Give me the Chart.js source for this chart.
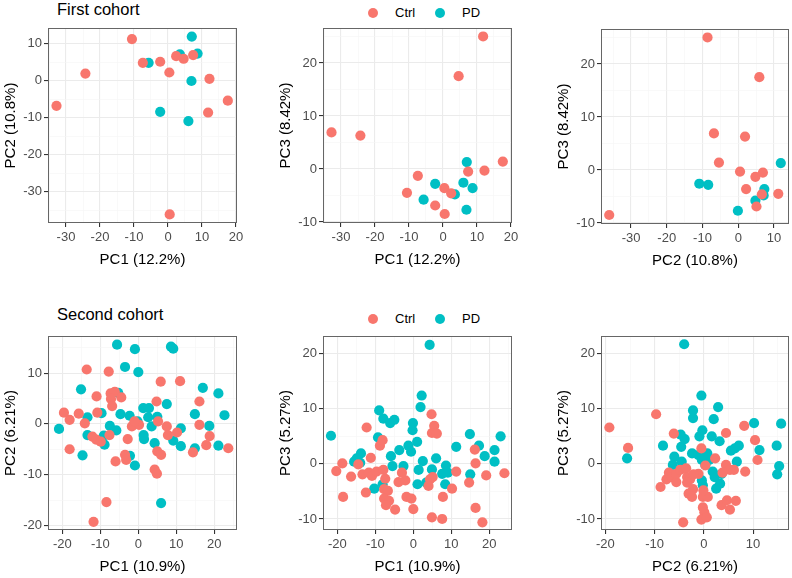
<!DOCTYPE html>
<html>
<head>
<meta charset="utf-8">
<script src="https://cdn.jsdelivr.net/npm/chart.js@4.4.0/dist/chart.umd.min.js"></script>
<style>
  body { margin: 0; width: 792px; height: 578px; background: #fff; overflow: hidden; position: relative;
         font-family: "Liberation Sans", Arial, sans-serif; }
  canvas { position: absolute; }
  .title { position: absolute; font-size: 16.5px; line-height: 20px; color: #000; white-space: nowrap; }
  .leg { position: absolute; font-size: 13px; line-height: 16px; color: #000; white-space: nowrap; }
  .dot { position: absolute; width: 10px; height: 10px; border-radius: 50%; }
</style>
</head>
<body>

<div class="title" style="left:57px; top:-1px;">First cohort</div>
<div class="title" style="left:57px; top:304px;">Second cohort</div>

<div class="dot" style="left:368px; top:8px; background:#F8766D;"></div>
<div class="leg" style="left:395px; top:5px;">Ctrl</div>
<div class="dot" style="left:435px; top:8px; background:#00BFC4;"></div>
<div class="leg" style="left:462px; top:5px;">PD</div>

<div class="dot" style="left:368px; top:314px; background:#F8766D;"></div>
<div class="leg" style="left:395px; top:311px;">Ctrl</div>
<div class="dot" style="left:435px; top:314px; background:#00BFC4;"></div>
<div class="leg" style="left:462px; top:311px;">PD</div>

<canvas id="p1"></canvas>
<canvas id="p2"></canvas>
<canvas id="p3"></canvas>
<canvas id="p4"></canvas>
<canvas id="p5"></canvas>
<canvas id="p6"></canvas>

<script>
// ---- First cohort: one score per sample, same samples in all three panels
const c1CtrlPC1 = [-32.8, -24.3, -10.6, -7.4, -2.3, 0.4, 0.5, 2.4, 4.6, 7.4, 11.8, 12.2, 17.6];
const c1CtrlPC2 = [-6.8, 1.9, 11.2, 4.8, 5.1, 2.2, -36.1, 6.6, 5.9, 6.9, -8.6, 0.5, -5.4];
const c1CtrlPC3 = [6.9, 6.3, -4.5, -1.3, -6.9, -3.6, -8.5, -4.6, 17.5, -0.5, 25.0, -0.3, 1.4];
const c1PdPC1 = [-5.7, -2.3, 3.5, 6.0, 6.9, 7.0, 8.7];
const c1PdPC2 = [4.8, -8.4, 7.1, -10.9, -0.1, 11.9, 7.3];
const c1PdPC3 = [-5.8, -2.8, -4.8, -2.6, -7.7, 1.3, -3.6];

// ---- Second cohort: points read per panel, [x, y]
const c2CtrlPC1PC2 = [[-13.6,10.7],[-7.8,10.3],[-11.0,5.4],[-7.3,6.0],[-6.2,6.3],[-4.5,5.2],[-7.2,4.9],[-6.9,3.5],
  [-19.6,2.2],[-18.1,0.8],[-15.7,2.0],[-14.1,0.1],[-10.8,2.2],[-12.1,-2.5],[-11.1,-3.1],[-9.9,-3.5],[-18.1,-5.0],
  [-7.6,-2.2],[-2.8,-3.0],[-1.7,-0.5],[0.2,-0.2],[-1.0,0.5],[-6.0,-7.4],[-3.5,-6.1],[-3.2,-7.1],[5.9,8.3],[11.0,8.4],
  [4.8,4.4],[5.2,0.5],[7.5,-0.5],[7.8,-2.2],[10.2,-1.7],[5.0,-5.4],[6.0,-6.1],[4.3,-9.0],[4.9,-9.8],[-8.4,-15.4],
  [-11.8,-19.3],[16.1,4.4],[16.1,-0.2],[18.8,-2.4],[17.9,-4.2],[14.4,-5.6],[23.7,-4.8]];
const c2PdPC1PC2 = [[-5.6,15.6],[-0.9,14.7],[8.6,15.2],[9.2,14.8],[-3.5,11.2],[0.0,10.2],[-15.1,6.8],[-5.3,6.1],
  [-20.9,-1.0],[-13.4,1.3],[-13.4,-2.2],[-9.7,2.1],[-14.7,-6.2],[-8.9,-4.1],[-9.1,-2.3],[-7.5,-0.4],[-5.8,-1.3],
  [-4.7,1.9],[-2.3,1.6],[-0.2,0.5],[-2.2,-6.3],[-0.9,-8.2],[1.3,3.1],[2.8,3.1],[2.6,1.3],[3.5,-0.5],[5.0,1.4],
  [1.4,-2.2],[1.5,-3.0],[4.3,-3.8],[7.5,3.9],[9.2,-3.3],[11.2,-0.9],[11.2,-4.4],[17.0,7.1],[21.1,6.0],[14.9,1.9],
  [14.9,-4.8],[18.7,-0.4],[21.1,-4.3],[22.7,1.7],[6.0,-15.6]];

const c2CtrlPC1PC3 = [[4.8,9.0],[5.5,6.9],[4.9,5.6],[6.2,5.5],[-12.3,6.6],[-8.8,3.3],[-8.1,4.3],[-11.2,1.1],
  [-20.3,-1.3],[-18.7,0.1],[-16.4,-2.3],[-14.5,-0.1],[-13.4,-1.9],[-11.7,-1.6],[-10.9,-2.2],[-9.7,-1.4],[-7.9,-1.1],
  [-7.4,-2.7],[-12.5,-5.2],[-18.5,-6.0],[-7.7,-4.6],[-6.7,-4.9],[-7.7,-6.3],[-6.4,-6.7],[-7.2,-7.5],[-4.8,-8.3],
  [-3.9,-3.3],[-3.0,-1.6],[-2.1,-3.0],[-1.8,-6.0],[-0.5,-6.3],[0.0,-8.2],[4.0,-4.0],[4.4,-2.8],[5.1,-2.4],
  [4.9,-9.7],[7.6,-10.0],[7.8,-6.0],[10.2,-4.5],[11.3,-1.4],[14.7,-3.4],[16.2,2.6],[16.4,0.1],[16.4,-8.0],
  [18.2,-10.6],[19.2,-2.1],[24.0,-1.7]];
const c2PdPC1PC3 = [[4.3,21.6],[2.2,12.4],[1.9,10.3],[-9.0,9.7],[-7.9,8.2],[-5.0,8.0],[-6.1,7.4],[-0.1,7.4],
  [-0.2,6.1],[-21.7,5.1],[-9.3,4.8],[1.0,4.0],[-1.3,3.3],[-3.7,2.5],[-0.6,2.2],[-5.9,1.4],[-13.8,1.9],[-14.9,1.0],
  [-15.6,0.4],[-14.0,0.2],[-5.5,-0.4],[-2.6,-0.4],[2.5,0.5],[6.0,1.0],[1.4,-1.1],[4.9,-1.0],[8.6,-0.3],[9.1,-1.6],
  [7.6,-1.8],[1.1,-3.7],[3.4,-3.4],[8.4,-3.7],[-10.3,-4.5],[-8.1,-3.7],[11.3,3.1],[14.9,5.4],[17.3,3.3],
  [18.8,1.4],[21.4,2.5],[21.4,0.4],[23.0,5.0],[15.0,-1.9]];

const c2CtrlPC2PC3 = [[-19.2,6.6],[-15.4,2.9],[-9.7,9.0],[-6.1,5.5],[4.5,5.6],[8.2,6.9],[10.4,4.3],[10.9,0.7],
  [8.4,-1.4],[-0.5,2.8],[2.3,1.0],[0.3,-0.3],[4.5,-0.2],[5.3,-1.1],[6.1,-1.1],[3.8,-1.6],[-8.8,-4.2],[-7.6,-2.8],
  [-7.1,-1.6],[-6.5,-2.4],[-5.6,-3.3],[-5.6,-1.8],[-4.8,-1.1],[-3.6,-0.8],[-3.4,-2.4],[-2.8,-2.8],[-1.1,-1.8],
  [-2.1,-1.9],[-3.4,-3.4],[-2.2,-4.6],[-3.1,-5.4],[-2.4,-6.0],[-0.2,-6.0],[0.8,-6.0],[-0.2,-7.9],[0.1,-8.8],
  [-0.5,-10.1],[0.6,-9.7],[-4.2,-10.6],[3.6,-7.5],[4.7,-6.6],[5.3,-8.3],[6.5,-6.7],[-0.1,-4.8]];
const c2PdPC2PC3 = [[-4.0,21.7],[-0.5,12.4],[2.9,10.3],[-2.2,9.7],[-2.2,8.3],[2.0,8.1],[-0.3,6.1],[-0.9,5.0],
  [-4.7,5.3],[-3.9,4.5],[-4.6,3.1],[-8.3,3.3],[-15.6,1.0],[1.6,5.0],[3.2,4.1],[5.5,2.4],[6.3,2.8],[7.1,3.3],
  [10.2,7.4],[15.7,7.3],[11.3,2.5],[14.8,3.3],[15.3,-0.4],[14.9,-1.9],[6.7,0.4],[-4.5,0.4],[-6.0,1.3],[-6.3,-0.2],
  [-2.4,1.9],[-1.1,1.6],[0.7,1.9],[1.1,0.7],[-0.4,0.7],[0.3,-0.2],[1.8,-1.4],[2.2,-2.4],[3.6,-1.8],[3.3,-3.6],
  [2.5,-4.5],[-0.2,-3.9],[-0.4,-3.0]];

// axis limits (ggplot default expansion already included)
const c1LimPC1 = [-35.3, 20.3];
const c1LimPC2 = [-38.4, 14.2];
const c1LimPC3 = [-10.2, 26.6];
const c2LimPC1 = [-23.8, 26.0];
const c2LimPC2 = [-20.9, 17.3];
const c2LimPC3 = [-12.0, 23.2];

const CTRL = '#F8766D';
const PD = '#00BFC4';

function zip(xs, ys) {
  return xs.map((x, i) => ({ x: x, y: ys[i] }));
}
function pairs(list) {
  return list.map(p => ({ x: p[0], y: p[1] }));
}

// panel border drawn on top of the points
const borderPlugin = {
  id: 'panelBorder',
  afterDraw(chart) {
    const a = chart.chartArea, ctx = chart.ctx;
    ctx.save();
    ctx.strokeStyle = '#666666';
    ctx.lineWidth = 1;
    ctx.strokeRect(Math.round(a.left) + 0.5, Math.round(a.top) + 0.5,
                   Math.round(a.right - a.left) - 1, Math.round(a.bottom - a.top) - 1);
    ctx.restore();
  }
};

function isMajor(v) {
  return Math.abs(v % 10) < 1e-6;
}

function axis(lim, label, horizontal) {
  return {
    type: 'linear',
    min: lim[0],
    max: lim[1],
    afterBuildTicks: (scale) => {
      const t = [];
      for (let v = Math.ceil(lim[0] / 5) * 5; v <= lim[1]; v += 5) t.push({ value: v });
      scale.ticks = t;
    },
    afterFit: (scale) => {
      if (horizontal) scale.height = 48; else scale.width = 48;
    },
    ticks: {
      autoSkip: false,
      maxRotation: 0,
      padding: horizontal ? 3 : 2,
      color: '#4D4D4D',
      font: { family: '"Liberation Sans", Arial, sans-serif', size: 13 },
      callback: (v) => isMajor(v) ? String(v) : ''
    },
    grid: {
      color: (c) => isMajor(c.tick.value) ? '#EBEBEB' : '#F5F5F5',
      lineWidth: (c) => isMajor(c.tick.value) ? 1.1 : 0.6,
      tickColor: (c) => isMajor(c.tick.value) ? '#333333' : 'rgba(0,0,0,0)',
      tickLength: 4,
      drawTicks: true
    },
    border: { display: false },
    title: {
      display: true,
      text: label,
      color: '#000',
      padding: { top: 2, bottom: 2 },
      font: { family: '"Liberation Sans", Arial, sans-serif', size: 15 }
    }
  };
}

function makePanel(id, box, xLab, yLab, xLim, yLim, ctrlPts, pdPts) {
  const PADL = 48, PADT = 12, PADR = 14, PADB = 48;
  const cv = document.getElementById(id);
  cv.width = box[2] + PADL + PADR;
  cv.height = box[3] + PADT + PADB;
  cv.style.left = (box[0] - PADL) + 'px';
  cv.style.top = (box[1] - PADT) + 'px';

  new Chart(cv.getContext('2d'), {
    type: 'scatter',
    data: {
      datasets: [
        { label: 'Ctrl', data: ctrlPts, backgroundColor: CTRL, borderWidth: 0, pointRadius: 5.1, pointHoverRadius: 5.1 },
        { label: 'PD', data: pdPts, backgroundColor: PD, borderWidth: 0, pointRadius: 5.1, pointHoverRadius: 5.1 }
      ]
    },
    options: {
      responsive: false,
      animation: false,
      layout: { padding: { left: 0, top: PADT, right: PADR, bottom: 0 } },
      plugins: { legend: { display: false }, tooltip: { enabled: false } },
      scales: {
        x: axis(xLim, xLab, true),
        y: axis(yLim, yLab, false)
      }
    },
    plugins: [borderPlugin]
  });
}

makePanel('p1', [48, 28, 189, 195], 'PC1 (12.2%)', 'PC2 (10.8%)', c1LimPC1, c1LimPC2,
  zip(c1CtrlPC1, c1CtrlPC2), zip(c1PdPC1, c1PdPC2));
makePanel('p2', [323, 28, 189, 195], 'PC1 (12.2%)', 'PC3 (8.42%)', c1LimPC1, c1LimPC3,
  zip(c1CtrlPC1, c1CtrlPC3), zip(c1PdPC1, c1PdPC3));
makePanel('p3', [601, 29, 188, 195], 'PC2 (10.8%)', 'PC3 (8.42%)', c1LimPC2, c1LimPC3,
  zip(c1CtrlPC2, c1CtrlPC3), zip(c1PdPC2, c1PdPC3));

makePanel('p4', [48, 336, 189, 194], 'PC1 (10.9%)', 'PC2 (6.21%)', c2LimPC1, c2LimPC2,
  pairs(c2CtrlPC1PC2), pairs(c2PdPC1PC2));
makePanel('p5', [323, 336, 189, 194], 'PC1 (10.9%)', 'PC3 (5.27%)', c2LimPC1, c2LimPC3,
  pairs(c2CtrlPC1PC3), pairs(c2PdPC1PC3));
makePanel('p6', [601, 336, 188, 194], 'PC2 (6.21%)', 'PC3 (5.27%)', c2LimPC2, c2LimPC3,
  pairs(c2CtrlPC2PC3), pairs(c2PdPC2PC3));
</script>
</body>
</html>
